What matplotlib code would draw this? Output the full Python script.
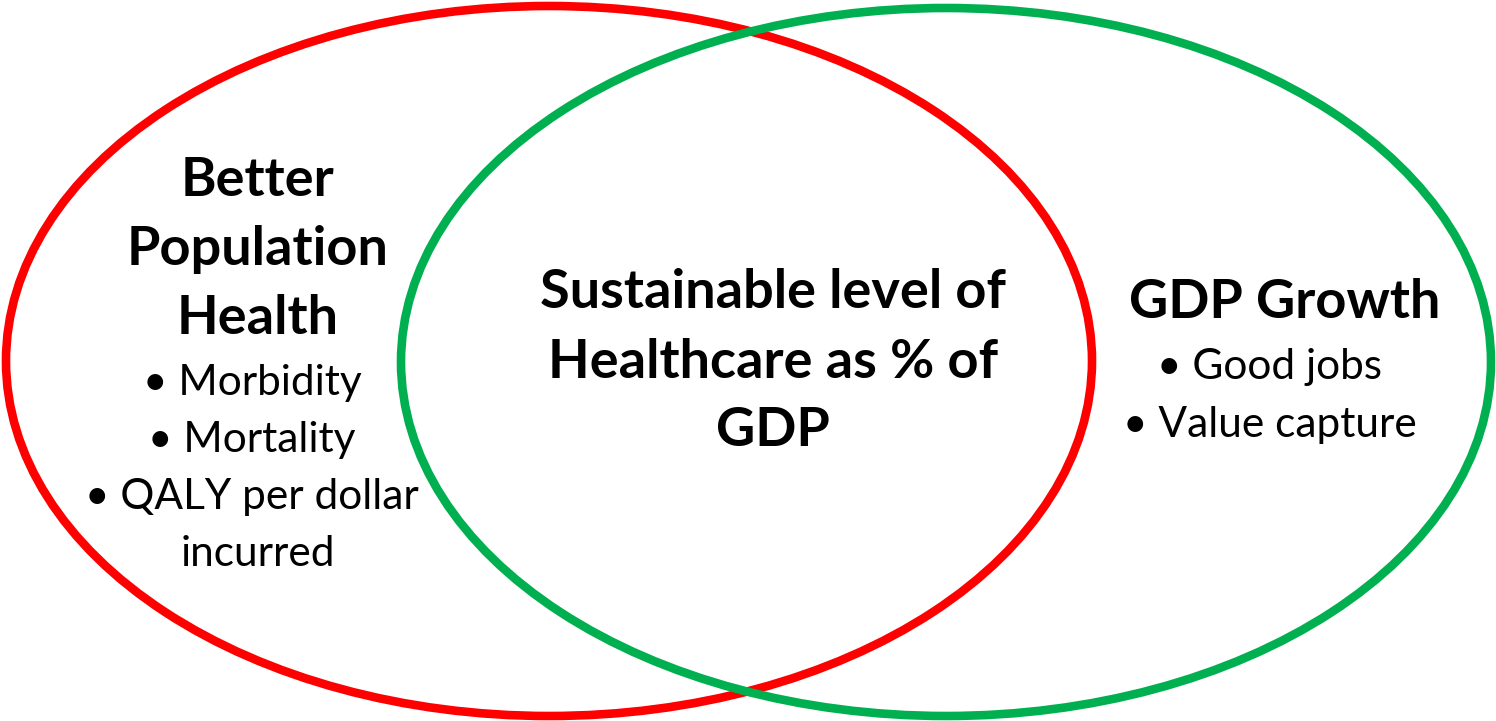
import matplotlib
matplotlib.use("Agg")
import matplotlib.pyplot as plt
from matplotlib.patches import Ellipse

# Data: set names and their bullet items
left_title = ["Better", "Population", "Health"]
left_items = ["• Morbidity", "• Mortality", "• QALY per dollar", "incurred"]
center_title = ["Sustainable level of", "Healthcare as % of", "GDP"]
right_title = ["GDP Growth"]
right_items = ["• Good jobs", "• Value capture"]

W, H = 1496, 721
fig = plt.figure(figsize=(W / 100, H / 100), dpi=100)
ax = fig.add_axes([0, 0, 1, 1])
ax.set_xlim(0, W)
ax.set_ylim(H, 0)
ax.axis("off")

red = "#FF0000"
green = "#00B050"
ax.add_patch(Ellipse((549, 361), 1086, 710, fill=False, edgecolor=red, lw=6.2))
ax.add_patch(Ellipse((946, 362), 1090, 708, fill=False, edgecolor=green, lw=6.2))

font = "Lato"
bold_size = 39
norm_size = 30.5

def lines(x, y0, dy, texts, weight, size):
    for i, t in enumerate(texts):
        ax.text(x, y0 + i * dy, t, ha="center", va="center", fontsize=size,
                fontweight=weight, family=font, color="black")

lines(258, 180, 69, left_title, "bold", bold_size)
lines(252, 383, 57, left_items[:3], "normal", norm_size)
lines(258, 383 + 3 * 57, 57, left_items[3:], "normal", norm_size)
lines(773, 293, 69, center_title, "bold", bold_size)
lines(1285, 303, 69, right_title, "bold", bold_size)
lines(1270, 367, 58, right_items, "normal", norm_size)

fig.savefig("out.png", dpi=100)
